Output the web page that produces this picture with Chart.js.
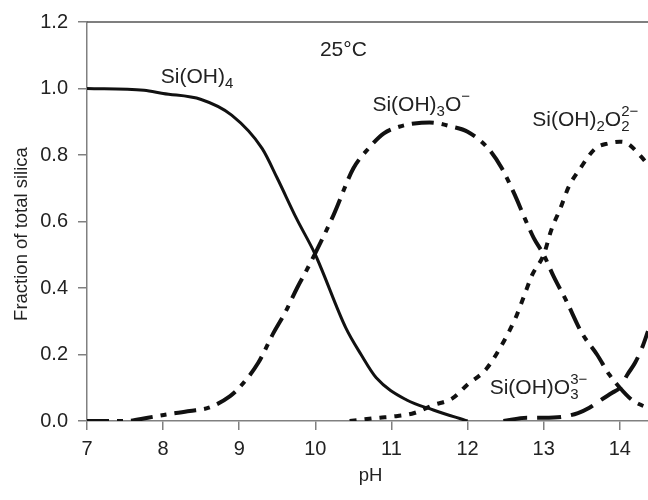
<!DOCTYPE html>
<html>
<head>
<meta charset="utf-8">
<script src="https://cdn.jsdelivr.net/npm/chart.js@4.4.0/dist/chart.umd.min.js"></script>
<style>
  html, body { margin: 0; padding: 0; background: #fff; }
  #wrap { width: 648px; height: 500px; position: relative; }
</style>
</head>
<body>
<div id="wrap"><canvas id="silica"></canvas></div>
<script>
// values (pH vs fraction of total silica, 25°C)
const phSiOH4 = [7, 7.75, 8, 8.5, 8.9, 9.3, 9.5, 9.75, 10, 10.4, 10.6, 10.8, 11.2, 11.55, 12];
const fracSiOH4 = [1.0, 0.995, 0.985, 0.967, 0.92, 0.82, 0.73, 0.61, 0.50, 0.28, 0.20, 0.13, 0.063, 0.033, 0.0];

const phSiOH3O = [7, 7.5, 7.8, 8.05, 8.35, 8.6, 8.88, 9.0, 9.25, 9.45, 9.6, 9.76, 9.9, 10.0, 10.24, 10.5, 10.7, 10.9, 11.1, 11.3, 11.5, 11.8, 12.0, 12.27, 12.45, 12.63, 12.76, 12.87, 13.0, 13.13, 13.3, 13.5, 13.7, 13.86, 14.0, 14.15, 14.28, 14.37];
const fracSiOH3O = [0, 0.0, 0.01, 0.02, 0.03, 0.04, 0.075, 0.10, 0.175, 0.265, 0.325, 0.40, 0.46, 0.505, 0.62, 0.76, 0.82, 0.865, 0.885, 0.895, 0.898, 0.885, 0.87, 0.82, 0.76, 0.675, 0.605, 0.55, 0.50, 0.435, 0.36, 0.265, 0.20, 0.14, 0.10, 0.065, 0.048, 0.04];

const phSiOH2O2 = [10.45, 10.85, 11.0, 11.3, 11.55, 11.8, 12.0, 12.24, 12.44, 12.63, 12.74, 12.85, 13.0, 13.1, 13.22, 13.33, 13.48, 13.68, 13.85, 14.0, 14.1, 14.28, 14.37];
const fracSiOH2O2 = [0.0, 0.01, 0.013, 0.024, 0.048, 0.068, 0.11, 0.155, 0.225, 0.31, 0.375, 0.44, 0.50, 0.575, 0.64, 0.705, 0.76, 0.82, 0.835, 0.84, 0.835, 0.795, 0.77];

const phSiOHO3 = [12.47, 12.78, 13.0, 13.25, 13.45, 13.6, 13.75, 13.9, 14.0, 14.1, 14.2, 14.3, 14.37];
const fracSiOHO3 = [0.0, 0.01, 0.01, 0.013, 0.024, 0.04, 0.063, 0.085, 0.10, 0.14, 0.175, 0.225, 0.27];

const yTicks = [0, 0.2, 0.4, 0.6, 0.8, 1.0, 1.2];
const xTicks = [7, 8, 9, 10, 11, 12, 13, 14];

const FONT = '"Liberation Sans", Arial, sans-serif';

function pts(xs, ys) {
  return xs.map((x, i) => ({ x: x, y: ys[i] }));
}

function series(xs, ys, dash, width) {
  return {
    data: pts(xs, ys),
    borderColor: '#111',
    borderWidth: width,
    borderDash: dash,
    borderCapStyle: 'butt',
    pointRadius: 0,
    fill: false,
    cubicInterpolationMode: 'monotone'
  };
}

// text with sub/superscripts: parts = [[text, 'n'|'sub'|'sup'], ...]
function chem(ctx, parts, x, y, size) {
  let cx = x;
  ctx.textBaseline = 'middle';
  ctx.textAlign = 'left';
  let lastW = 0;
  parts.forEach(p => {
    const small = p[1] !== 'n';
    ctx.font = (small ? Math.round(size * 0.72) : size) + 'px ' + FONT;
    let dy = 0;
    if (p[1] === 'sub') dy = size * 0.33;
    if (p[1] === 'sup') dy = -size * 0.38;
    // stacked sub+sup: the sup starts at the same x as the sub before it
    if (p[2] === 'stack') cx -= lastW;
    ctx.fillText(p[0], cx, y + dy);
    lastW = ctx.measureText(p[0]).width;
    cx += lastW;
  });
}

const labels = [
  { px: 10.06, py: 1.116, parts: [['25°C', 'n']] },
  { px: 7.97, py: 1.035, parts: [['Si(OH)', 'n'], ['4', 'sub']] },
  { px: 10.75, py: 0.95, parts: [['Si(OH)', 'n'], ['3', 'sub'], ['O', 'n'], ['−', 'sup']] },
  { px: 12.85, py: 0.905, parts: [['Si(OH)', 'n'], ['2', 'sub'], ['O', 'n'], ['2', 'sub'], ['2−', 'sup', 'stack']] },
  { px: 12.29, py: 0.10, parts: [['Si(OH)O', 'n'], ['3', 'sub'], ['3−', 'sup', 'stack']] }
];

const annotate = {
  id: 'annotate',
  afterDraw(chart) {
    const ctx = chart.ctx;
    const a = chart.chartArea;
    const xs = chart.scales.x, ys = chart.scales.y;
    ctx.save();
    // top frame line
    ctx.strokeStyle = '#555';
    ctx.lineWidth = 1.5;
    ctx.beginPath();
    ctx.moveTo(a.left, a.top);
    ctx.lineTo(a.right, a.top);
    ctx.stroke();

    ctx.fillStyle = '#222';
    labels.forEach(l => {
      chem(ctx, l.parts, xs.getPixelForValue(l.px), ys.getPixelForValue(l.py), 21);
    });

    // axis titles
    ctx.font = '18.5px ' + FONT;
    ctx.textAlign = 'center';
    ctx.textBaseline = 'middle';
    ctx.fillText('pH', (a.left + a.right) / 2 + 3, 476);
    ctx.translate(22, 234);
    ctx.rotate(-Math.PI / 2);
    ctx.fillText('Fraction of total silica', 0, 0);
    ctx.restore();
  }
};

new Chart(document.getElementById('silica'), {
  type: 'line',
  data: {
    datasets: [
      series(phSiOH4, fracSiOH4, [], 3),
      series(phSiOH3O, fracSiOH3O, [22, 8, 6, 8], 4),
      series(phSiOH2O2, fracSiOH2O2, [7, 8], 4),
      series(phSiOHO3, fracSiOHO3, [24, 10], 4)
    ]
  },
  options: {
    responsive: true,
    maintainAspectRatio: false,
    animation: false,
    layout: { padding: { top: 22, right: 0, left: 0, bottom: 0 } },
    plugins: { legend: { display: false }, tooltip: { enabled: false } },
    scales: {
      x: {
        type: 'linear',
        min: 7,
        max: 14.37,
        afterBuildTicks: s => { s.ticks = xTicks.map(v => ({ value: v })); },
        afterFit: s => { s.height = 79; },
        grid: { drawOnChartArea: false, drawTicks: true, tickLength: 9, color: '#808080', lineWidth: 1.5 },
        border: { color: '#808080', width: 1.5 },
        ticks: { color: '#222', font: { family: FONT, size: 20 }, padding: 7, maxRotation: 0 }
      },
      y: {
        min: 0,
        max: 1.2,
        afterBuildTicks: s => { s.ticks = yTicks.map(v => ({ value: v })); },
        afterFit: s => { s.width = 87; },
        grid: { drawOnChartArea: false, drawTicks: true, tickLength: 9, color: '#808080', lineWidth: 1.5 },
        border: { color: '#808080', width: 1.5 },
        ticks: { color: '#222', font: { family: FONT, size: 20 }, padding: 10, callback: v => v.toFixed(1) }
      }
    }
  },
  plugins: [annotate]
});
</script>
</body>
</html>
